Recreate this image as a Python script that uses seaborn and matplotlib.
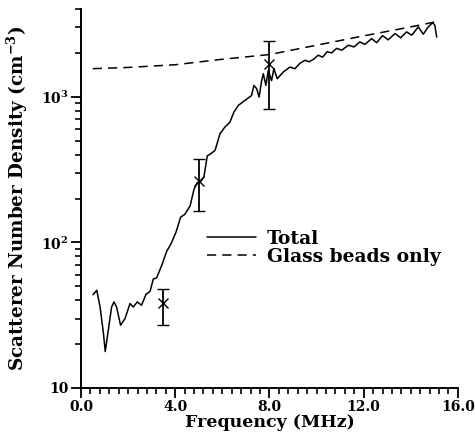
import numpy as np
import pandas as pd
import matplotlib
matplotlib.use("Agg")
import matplotlib.pyplot as plt
import seaborn as sns
from matplotlib.ticker import FixedLocator, MultipleLocator, LogLocator, NullFormatter

# ---- data ----
total_freq = [0.51, 0.67, 0.81, 0.95, 1.03, 1.16, 1.30, 1.40, 1.51, 1.68, 1.87, 2.08, 2.22,
              2.39, 2.57, 2.76, 2.93, 3.07, 3.21, 3.42, 3.64, 3.81, 4.03, 4.23, 4.41, 4.63,
              4.80, 4.94, 5.05, 5.22, 5.36, 5.50, 5.69, 5.90, 6.11, 6.32, 6.49, 6.68, 6.96,
              7.24, 7.34, 7.46, 7.56, 7.67, 7.74, 7.85, 7.95, 8.09, 8.19, 8.33, 8.59, 8.87,
              9.08, 9.30, 9.51, 9.69, 9.89, 10.07, 10.26, 10.45, 10.64, 10.85, 11.07, 11.35,
              11.59, 11.84, 12.05, 12.34, 12.55, 12.80, 13.04, 13.33, 13.57, 13.82, 14.04,
              14.32, 14.53, 14.74, 14.93, 15.02, 15.10]
total_vals = [43.7, 46.9, 36, 24, 17.8, 25, 36, 39, 36, 27, 30, 38, 36,
              39, 37, 44, 46, 56, 57, 69, 87, 97, 117, 149, 156, 178,
              232, 258, 258, 282, 393, 405, 428, 556, 620, 668, 783, 873, 944,
              1020, 1197, 1135, 995, 1290, 1440, 1197, 1520, 1290, 1560, 1330, 1480, 1600,
              1560, 1700, 1780, 1740, 1820, 1930, 1870, 2040, 2000, 2150, 2090, 2260,
              2200, 2380, 2290, 2510, 2350, 2630, 2460, 2720, 2540, 2790, 2650,
              3020, 2690, 3020, 3230, 3100, 2570]

beads_freq = [0.5, 2.0, 4.0, 6.0, 8.0, 10.0, 12.0, 14.0, 15.05]
beads_vals = [1560, 1590, 1660, 1810, 1950, 2260, 2620, 3020, 3270]

err_freq = [3.5, 5.0, 8.0]
err_center = [38.4, 265, 1690]
err_low = [27.2, 164, 826]
err_high = [47.5, 373, 2420]

xtick_vals = [0.0, 4.0, 8.0, 12.0, 16.0]
xtick_labels = ["0.0", "4.0", "8.0", "12.0", "16.0"]
ytick_vals = [10, 100, 1000]
ytick_labels = ["10", r"10$^{\mathbf{2}}$", r"10$^{\mathbf{3}}$"]

# ---- style ----
sns.set_style("ticks")
plt.rcParams["font.family"] = ["DejaVu Serif"]
plt.rcParams["font.weight"] = "bold"
plt.rcParams["mathtext.fontset"] = "dejavuserif"
for k in ["text.color", "axes.labelcolor", "xtick.color", "ytick.color", "axes.edgecolor"]:
    plt.rcParams[k] = "black"

fig = plt.figure(figsize=(4.75, 4.34), dpi=100)
ax = fig.add_axes([0.1705, 0.106, 0.7935, 0.873])

df_total = pd.DataFrame({"f": total_freq, "v": total_vals})
df_beads = pd.DataFrame({"f": beads_freq, "v": beads_vals})

sns.lineplot(data=df_total, x="f", y="v", ax=ax, color="black", lw=1.1,
             label="Total", sort=False)
sns.lineplot(data=df_beads, x="f", y="v", ax=ax, color="black", lw=1.1,
             linestyle=(0, (6, 4)), label="Glass beads only")

yerr = [np.array(err_center) - np.array(err_low), np.array(err_high) - np.array(err_center)]
ax.errorbar(err_freq, err_center, yerr=yerr, fmt="x", color="black", ms=7, mew=1.0,
            elinewidth=1.3, capsize=4.5, capthick=1.3)

ax.set_yscale("log")
ax.set_xlim(0, 16)
ax.set_ylim(10, 4000)

ax.xaxis.set_major_locator(FixedLocator(xtick_vals))
ax.set_xticklabels(xtick_labels)
ax.xaxis.set_minor_locator(MultipleLocator(0.4))
ax.yaxis.set_major_locator(FixedLocator(ytick_vals))
ax.set_yticklabels(ytick_labels)
ax.yaxis.set_minor_locator(LogLocator(base=10, subs=np.arange(2, 10)))
ax.yaxis.set_minor_formatter(NullFormatter())

ax.tick_params(axis="both", which="major", direction="out", length=7, width=1.3,
               labelsize=10, color="black", pad=2)
ax.tick_params(axis="both", which="minor", direction="out", length=4.5, width=1.2,
               color="black")
for lab in ax.get_xticklabels() + ax.get_yticklabels():
    lab.set_fontweight("bold")

sns.despine(ax=ax)
for s in ["left", "bottom"]:
    ax.spines[s].set_linewidth(1.4)
    ax.spines[s].set_color("black")

ax.set_xlabel("Frequency (MHz)", fontsize=12.5, fontweight="bold", labelpad=0)
ax.set_ylabel(r"Scatterer Number Density (cm$^{\mathbf{-3}}$)", fontsize=13.2,
              fontweight="bold", labelpad=8)

leg = ax.legend(loc="upper left", bbox_to_anchor=(0.315, 0.437), frameon=False,
                fontsize=13.5, handlelength=2.6, handletextpad=0.6, labelspacing=0.0,
                borderaxespad=0)
for t in leg.get_texts():
    t.set_fontweight("bold")

fig.savefig("out.png", dpi=100)
